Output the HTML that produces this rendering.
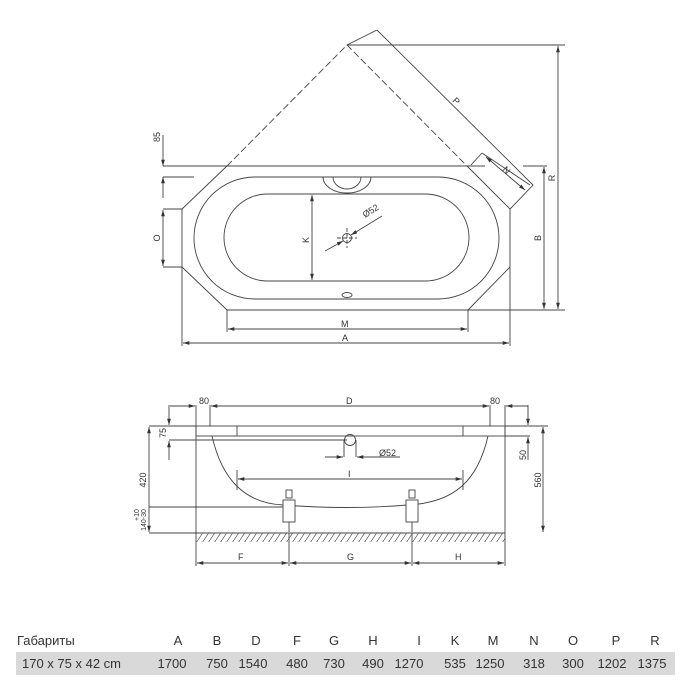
<!DOCTYPE html>
<html><head><meta charset="utf-8"><style>
body{margin:0;background:#fff;width:700px;height:700px;overflow:hidden}
svg{position:absolute;left:0;top:0}
text{font-family:"Liberation Sans","DejaVu Sans",sans-serif;fill:#333}
</style></head><body>
<svg width="700" height="700" viewBox="0 0 700 700">
<defs>
<marker id="a" viewBox="0 0 10 10" refX="10" refY="5" markerWidth="7" markerHeight="7" orient="auto-start-reverse"><path d="M0,2 L10,5 L0,8z" fill="#333"/></marker>
<pattern id="h" width="6" height="9" patternUnits="userSpaceOnUse"><path d="M0,9 L6,0" stroke="#555" stroke-width="0.7"/></pattern>
</defs>
<g stroke="#444" stroke-width="0.9" fill="none">
<!-- top view -->
<path d="M182,209 L227,166 M182,267 L227,310 L468,310 L510,267 L510,209 L467,166"/>
<path d="M182,209 L182,267"/>
<path d="M227,166 L347,45 L467,166" stroke-dasharray="7,3"/>
<path d="M377,30 L533,185 L512,207 L510,209"/>
<path d="M347,45 L377,30"/>
<path d="M482,153 L530,185 M482,153 L471,165" />
<path d="M486,157 L525,190" marker-start="url(#a)" marker-end="url(#a)"/>
<rect x="194" y="177" width="305" height="122" rx="61"/>
<rect x="224" y="194" width="245" height="87" rx="43.5"/>
<path d="M323,177 A24,16 0 0 0 371,177"/>
<path d="M333,177 A14,12 0 0 0 361,177"/>
<ellipse cx="347" cy="295" rx="5" ry="2.5"/>
<circle cx="347" cy="238" r="4.5"/>
<path d="M337,238 H357 M347,228 V248" stroke-dasharray="4,2"/>
<path d="M325,251 L343,241" marker-end="url(#a)"/>
<path d="M351,235 L382,216" marker-start="url(#a)"/>
<path d="M312,195 V280" marker-start="url(#a)" marker-end="url(#a)"/>
<path d="M163,166 H485 M523,166 H547 M163,177 H194"/>
<path d="M163,135 V166" marker-end="url(#a)"/>
<path d="M163,177 V198" marker-start="url(#a)"/>
<path d="M163,209 H182 M163,267 H182"/>
<path d="M163,210 V266" marker-start="url(#a)" marker-end="url(#a)"/>
<path d="M227,310 V332 M468,310 V332 M182,267 V346 M510,267 V346"/>
<path d="M228,329 H467" marker-start="url(#a)" marker-end="url(#a)"/>
<path d="M183,343 H509" marker-start="url(#a)" marker-end="url(#a)"/>
<path d="M468,310 H565 M347,45 H565"/>
<path d="M544,167 V309" marker-start="url(#a)" marker-end="url(#a)"/>
<path d="M558,46 V309" marker-start="url(#a)" marker-end="url(#a)"/>
<!-- side view -->
<rect x="196" y="426" width="309" height="10"/>
<path d="M237,426 V436 M463,426 V436"/>
<path d="M196,405 V533 M210,405 V426 M490,405 V426 M505,405 V533"/>
<path d="M211,406 H489" marker-start="url(#a)" marker-end="url(#a)"/>
<path d="M170,406 H195" marker-end="url(#a)"/>
<path d="M506,406 H528" marker-start="url(#a)"/>
<path d="M212,436 C222,480 245,503 283,505 Q348,510 407,505 C455,503 478,480 488,436"/>
<path d="M196,533 H505"/>
<rect x="196" y="533" width="309" height="9" fill="url(#h)" stroke="none"/>
<g fill="#fff">
<rect x="283" y="500" width="12" height="22"/><rect x="406" y="500" width="12" height="22"/>
<rect x="286" y="490" width="6" height="8"/><rect x="409" y="490" width="6" height="8"/>
</g>
<path d="M289,522 V532 M412,522 V532 M285,533 H293 M408,533 H416"/>
<path d="M149,426 H196 M169,440 H347 M149,507 H283 M149,533 H196"/>
<path d="M149,427 V532" marker-start="url(#a)" marker-end="url(#a)"/>
<path d="M169,405 V425" marker-end="url(#a)"/>
<path d="M169,441 V460" marker-start="url(#a)"/>
<circle cx="350" cy="440" r="5.5"/>
<path d="M344,440 V457 M356,440 V457"/>
<path d="M325,457 H343" marker-end="url(#a)"/>
<path d="M357,457 H400" marker-start="url(#a)"/>
<path d="M238,479 H462" marker-start="url(#a)" marker-end="url(#a)"/>
<path d="M237,470 V490 M463,470 V490"/>
<path d="M505,426 H548 M505,436 H530"/>
<path d="M528,405 V425" marker-end="url(#a)"/>
<path d="M528,437 V460" marker-start="url(#a)"/>
<path d="M543,427 V532" marker-start="url(#a)" marker-end="url(#a)"/>
<path d="M289,533 V566 M412,533 V566 M196,533 V566 M505,533 V566"/>
<path d="M197,563 H288" marker-start="url(#a)" marker-end="url(#a)"/>
<path d="M290,563 H411" marker-start="url(#a)" marker-end="url(#a)"/>
<path d="M413,563 H504" marker-start="url(#a)" marker-end="url(#a)"/>
</g>
<g font-size="9">
<text x="341" y="327">M</text><text x="342" y="341">A</text>
<text x="309" y="240" transform="rotate(-90 309 240)" text-anchor="middle">K</text>
<text x="160" y="238" transform="rotate(-90 160 238)" text-anchor="middle">O</text>
<text x="160" y="137" transform="rotate(-90 160 137)" text-anchor="middle">85</text>
<text x="541" y="238" transform="rotate(-90 541 238)" text-anchor="middle">B</text>
<text x="555" y="178" transform="rotate(-90 555 178)" text-anchor="middle">R</text>
<text x="452" y="101" transform="rotate(45 452 101)">P</text>
<text x="502" y="170" transform="rotate(45 502 170)">N</text>
<text x="365" y="218" transform="rotate(-32 365 218)">Ø52</text>
<text x="199" y="404">80</text><text x="346" y="404">D</text><text x="490" y="404">80</text>
<text x="379" y="456">Ø52</text><text x="348" y="477">I</text>
<text x="238" y="560">F</text><text x="347" y="560">G</text><text x="455" y="560">H</text>
<text x="146" y="480" transform="rotate(-90 146 480)" text-anchor="middle">420</text>
<text x="166" y="433" transform="rotate(-90 166 433)" text-anchor="middle">75</text>
<text x="526" y="455" transform="rotate(-90 526 455)" text-anchor="middle">50</text>
<text x="541" y="480" transform="rotate(-90 541 480)" text-anchor="middle">560</text>
<text x="146" y="520" transform="rotate(-90 146 520)" text-anchor="middle" font-size="7">140-30</text>
<text x="139" y="515" transform="rotate(-90 139 515)" text-anchor="middle" font-size="7">+10</text>
</g>
<rect x="16" y="652" width="659" height="23" fill="#d9d9d9"/>
<g font-size="13" text-anchor="middle">
<text x="17" y="645" text-anchor="start">Габариты</text>
<text x="178" y="645">A</text><text x="217" y="645">B</text><text x="256" y="645">D</text><text x="297" y="645">F</text><text x="334" y="645">G</text><text x="373" y="645">H</text><text x="419" y="645">I</text><text x="455" y="645">K</text><text x="493" y="645">M</text><text x="534" y="645">N</text><text x="573" y="645">O</text><text x="616" y="645">P</text><text x="655" y="645">R</text>
<text x="22" y="668" text-anchor="start">170 x 75 x 42 cm</text>
<text x="172" y="668">1700</text><text x="217" y="668">750</text><text x="253" y="668">1540</text><text x="297" y="668">480</text><text x="334" y="668">730</text><text x="373" y="668">490</text><text x="409" y="668">1270</text><text x="455" y="668">535</text><text x="490" y="668">1250</text><text x="534" y="668">318</text><text x="573" y="668">300</text><text x="612" y="668">1202</text><text x="652" y="668">1375</text>
</g>
</svg>
</body></html>
